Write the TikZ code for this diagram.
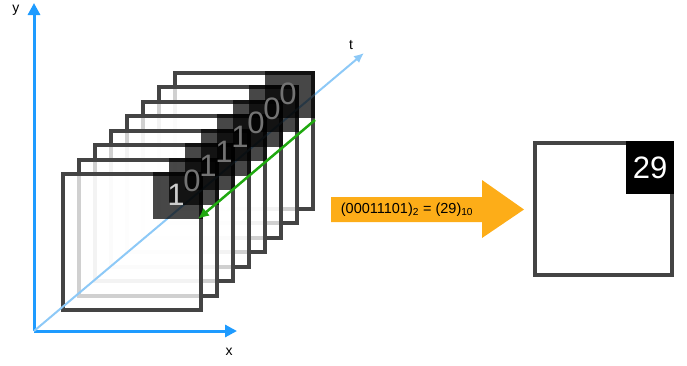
\documentclass[tikz,border=0pt]{standalone}
\usepackage{fontspec}
\setmainfont{Liberation Sans}
\usetikzlibrary{arrows.meta}

\definecolor{axisblue}{HTML}{1E9BFF}
\definecolor{timeblue}{HTML}{8DC9F7}
\definecolor{framegray}{HTML}{444444}
\definecolor{arrowgreen}{HTML}{1FA80F}
\definecolor{convorange}{HTML}{FDAD18}

\tikzset{
  vidframe/.style={draw=framegray,line width=4pt,fill=white,fill opacity=.75,draw opacity=1},
  bitsq/.style={fill=black,fill opacity=.72},
  bit/.style={font=\fontsize{31}{31}\selectfont},
  axis/.style={axisblue,line width=3pt,-{Triangle[length=12pt,width=12pt]}},
  lab/.style={font=\fontsize{14}{14}\selectfont}
}

\begin{document}
\begin{tikzpicture}[x=1pt,y=-1pt]
                              \useasboundingbox (0,0) rectangle (687,365);

                              % Axes
                              \coordinate (o) at (34,331);
                              \coordinate (ytip) at (34,3);
                              \coordinate (xtip) at (237,331);
                              \draw[axis] (o) -- (ytip);
                              \draw[axis] (o) -- (xtip);
                              \node[lab] (ylab) at (16,10) {y};
                              \node[lab] (xlab) at (229,352) {x};
                              \node[lab] (tlab) at (351,45) {t};

                              % Frames, back to front
                              \foreach \k in {7,...,0}{
                                    \draw[vidframe] (63+16*\k,174-14.43*\k) rectangle ++(138,136);
                              }

                              % Time axis
                              \coordinate (ttip) at (364,53);
                              \draw[timeblue,line width=2pt,-{Latex[length=10pt,width=9pt]}] (o) -- (ttip);

                              % Bit squares
                              \foreach \k in {7,...,0}{
                                    \fill[bitsq] (153+16*\k,172-14.43*\k) rectangle ++(50,47);
                              }

                              % Bits
                              \foreach \b/\c [count=\k from 0] in {1/20,0/55,1/55,1/55,1/55,0/55,0/55,0/55}{
                                    \node[bit,text=black!\c] (b\k) at (176+16*\k,195-14.43*\k) {\b};
                              }

                              % Green arrow
                              \coordinate (gs) at (315,120);
                              \coordinate (ge) at (198,219);
                              \draw[arrowgreen,line width=2.5pt,-{Latex[length=11pt,width=10pt]}] (gs) -- (ge);

                              % Conversion
                              \fill[convorange] (331,197) -- (482,197) -- (482,180) -- (524,209.5)
                              -- (482,238) -- (482,222) -- (331,222) -- cycle;
                              \node[font=\fontsize{14.5}{14.5}\selectfont] (conv) at (407,210)
                              {(00011101)\textsubscript{2} = (29)\textsubscript{10}};

                              % Result
                              \draw[framegray,line width=4pt] (535,143) rectangle (672,275);
                              \fill (626,141) rectangle (674,194);
                              \node[text=white,font=\fontsize{31}{31}\selectfont] (res) at (650,167.5) {29};
                        \end{tikzpicture}
\end{document}
